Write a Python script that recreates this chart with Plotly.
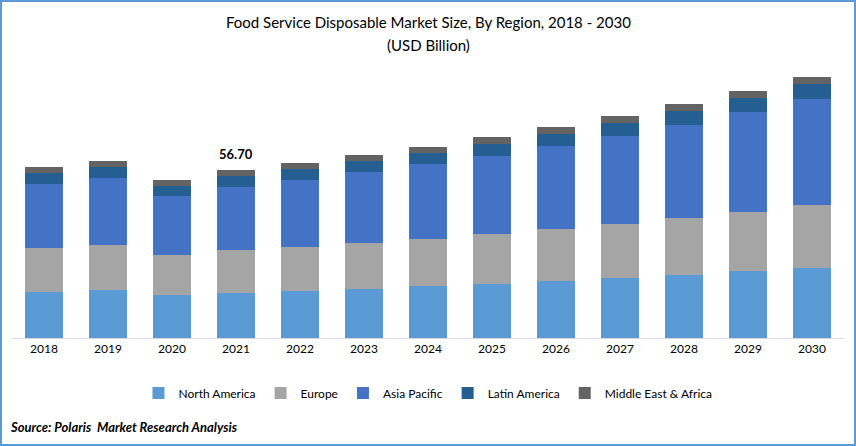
import plotly.graph_objects as go

years = ["2018", "2019", "2020", "2021", "2022", "2023", "2024",
         "2025", "2026", "2027", "2028", "2029", "2030"]

north_america = [15.5, 16.2, 14.5, 15.2, 15.9, 16.5, 17.5, 18.2, 19.2, 20.2, 21.3, 22.6, 23.6]
europe = [14.9, 15.2, 13.5, 14.5, 14.9, 15.5, 15.9, 16.9, 17.5, 18.2, 19.2, 19.9, 21.3]
asia_pacific = [21.6, 22.6, 19.9, 21.3, 22.6, 24.0, 25.3, 26.3, 28.0, 29.7, 31.4, 33.7, 35.8]
latin_america = [3.7, 3.6, 3.4, 3.7, 3.7, 3.7, 3.7, 4.0, 4.0, 4.4, 4.7, 4.7, 5.1]
middle_east_africa = [2.0, 2.1, 2.0, 2.0, 2.0, 2.0, 2.0, 2.4, 2.4, 2.4, 2.4, 2.4, 2.4]

label_year = "2021"
label_text = "56.70"

series = [
    ("North America", north_america, "#5B9BD5"),
    ("Europe", europe, "#A5A5A5"),
    ("Asia Pacific", asia_pacific, "#4472C4"),
    ("Latin America", latin_america, "#255E91"),
    ("Middle East & Africa", middle_east_africa, "#636363"),
]

fig = go.Figure()
for name, vals, color in series:
    fig.add_trace(go.Bar(x=years, y=vals, name=name, marker=dict(color=color, line=dict(width=0))))

# total label on top of the 2021 bar (category axis -> use the category index)
i = years.index(label_year)
total = sum(s[1][i] for s in series)
fig.add_annotation(x=i, y=total, text="<b>" + label_text + "</b>", showarrow=False,
                   yanchor="bottom", yshift=6, font=dict(size=13, color="#000000"))

# title
fig.add_annotation(xref="paper", yref="paper", x=0.5, y=1.2575 - 21 / 268, xanchor="center", yanchor="middle",
                   text="Food Service Disposable Market Size, By Region, 2018 - 2030",
                   showarrow=False, font=dict(size=15, color="#000000"))
fig.add_annotation(xref="paper", yref="paper", x=0.5, y=1.2575 - 44 / 268, xanchor="center", yanchor="middle",
                   text="(USD Billion)", showarrow=False, font=dict(size=15, color="#000000"))

# source note
fig.add_annotation(xref="paper", yref="paper", x=(8 - 12) / 832, y=(338 - 427) / 268, xanchor="left", yanchor="middle",
                   text="<b><i>Source: Polaris  Market Research Analysis</i></b>", showarrow=False,
                   font=dict(size=13, color="#000000", family="Liberation Sans Narrow, Lato, sans-serif"))

# blue frame around the whole picture
fig.add_shape(type="rect", xref="paper", yref="paper",
              x0=(1 - 12) / 832, x1=(855 - 12) / 832, y0=(338 - 445) / 268, y1=(338 - 1) / 268,
              line=dict(color="#5B9BD5", width=2))

fig.update_layout(
    barmode="stack",
    bargap=0.41,
    width=856,
    height=446,
    margin=dict(l=12, r=12, t=70, b=108),
    paper_bgcolor="white",
    plot_bgcolor="white",
    font=dict(family="Lato, sans-serif", size=12, color="#000000"),
    showlegend=True,
    legend=dict(orientation="h", x=0.5, xanchor="center", y=(338 - 393) / 268, yanchor="middle",
                font=dict(size=12, color="#000000"), traceorder="normal", itemwidth=30),
    xaxis=dict(type="category", range=[-0.5, len(years) - 0.5], showline=True, linecolor="#D9D9D9",
               linewidth=1, ticks="", showgrid=False, tickfont=dict(size=12, color="#000000")),
    yaxis=dict(range=[0, 268 / 2.963], visible=False, showgrid=False),
)

fig.write_html("out.html", config={"displayModeBar": False},
               post_script="document.body.style.margin='0';")
